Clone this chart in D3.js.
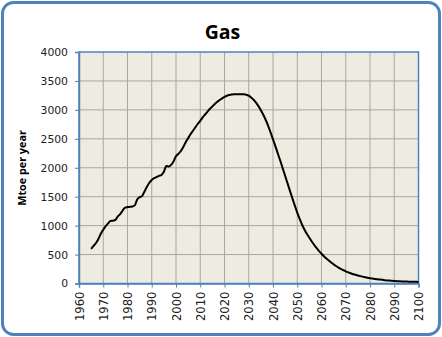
<!DOCTYPE html>
<html><head><meta charset="utf-8">
<script src="https://cdn.jsdelivr.net/npm/d3@7"></script>
<style>body{margin:0;background:#fff;}svg{display:block;}</style>
</head><body>
<script>
const title = "Gas";
const yLabel = "Mtoe per year";
const xTicks = [1960,1970,1980,1990,2000,2010,2020,2030,2040,2050,2060,2070,2080,2090,2100];
const yTicks = [0,500,1000,1500,2000,2500,3000,3500,4000];
const years = [1965,1966,1967,1968,1969,1970,1971,1972,1973,1974,1975,1976,1977,1978,1979,
1980,1981,1982,1983,1984,1985,1986,1987,1988,1989,1990,1991,1992,1993,1994,1995,1996,1997,1998,1999,
2000,2001,2002,2003,2004,2005,2006,2007,2008,2009,2010,2011,2012,2013,2014,2015,2016,2017,2018,2019,
2020,2021,2022,2023,2024,2025,2026,2027,2028,2029,2030,2031,2032,2033,2034,2035,2036,2037,2038,2039,
2040,2041,2042,2043,2044,2045,2046,2047,2048,2049,2050,2051,2052,2053,2054,2055,2056,2057,2058,2059,
2060,2061,2062,2063,2064,2065,2066,2067,2068,2069,2070,2072,2074,2076,2078,2080,2082,2084,2086,2088,
2090,2092,2094,2096,2098,2100];
const gas = [600,650,700,770,860,930,990,1040,1080,1085,1100,1160,1200,1260,1310,
1320,1325,1330,1350,1450,1490,1510,1590,1670,1740,1790,1820,1840,1860,1875,1930,2030,2020,2050,2110,
2200,2240,2290,2360,2440,2510,2580,2640,2700,2760,2810,2870,2920,2970,3020,3060,3100,3140,3170,3200,
3225,3245,3258,3265,3268,3268,3268,3268,3268,3262,3245,3215,3175,3125,3065,2995,2915,2825,2725,2610,
2490,2370,2245,2120,1990,1860,1730,1600,1470,1345,1225,1115,1015,930,855,790,725,665,610,560,
515,472,432,396,362,330,302,276,252,230,210,178,150,127,108,92,79,68,58,50,
44,39,35,32,30,28];

const W=442,H=337;
const svg=d3.select("body").append("svg").attr("width",W).attr("height",H);
svg.append("rect").attr("x",2.5).attr("y",2.5).attr("width",W-5).attr("height",H-5)
  .attr("rx",11).attr("fill","#fff").attr("stroke","#4F81BD").attr("stroke-width",3);

const L=79,R=418.5,T=52,B=283.5;
const x=d3.scaleLinear().domain([1960,2100]).range([L,R]);
const y=d3.scaleLinear().domain([0,4000]).range([B,T]);

svg.append("rect").attr("x",L).attr("y",T).attr("width",R-L).attr("height",B-T).attr("fill","#EEECE1");
const g=svg.append("g");
g.selectAll("line.v").data(xTicks.slice(1,-1)).enter().append("line")
  .attr("x1",d=>x(d)).attr("x2",d=>x(d)).attr("y1",T).attr("y2",B)
  .attr("stroke","#A6A6A6").attr("stroke-width",1);
g.selectAll("line.h").data(yTicks.slice(1,-1)).enter().append("line")
  .attr("y1",d=>y(d)).attr("y2",d=>y(d)).attr("x1",L).attr("x2",R)
  .attr("stroke","#A6A6A6").attr("stroke-width",1);
svg.append("rect").attr("x",L).attr("y",T).attr("width",R-L).attr("height",B-T)
  .attr("fill","none").attr("stroke","#4F81BD").attr("stroke-width",1.5);

const font="'DejaVu Sans', Verdana, sans-serif";
const yAxis=d3.axisLeft(y).tickValues(yTicks).tickFormat(d3.format("d")).tickSize(4).tickPadding(7);
const ya=svg.append("g").attr("transform",`translate(${L},0)`).call(yAxis);
ya.select(".domain").attr("stroke","#4F81BD").attr("stroke-width",1.5);
ya.selectAll(".tick line").attr("stroke","#4F81BD");
ya.selectAll("text").attr("font-family",font).attr("font-size","10.8px").attr("fill","#222");

const xAxis=d3.axisBottom(x).tickValues(xTicks).tickFormat(d3.format("d")).tickSize(4);
const xa=svg.append("g").attr("transform",`translate(0,${B})`).call(xAxis);
xa.select(".domain").attr("stroke","#4F81BD").attr("stroke-width",1.5);
xa.selectAll(".tick line").attr("stroke","#4F81BD");
xa.selectAll("text").attr("font-family",font).attr("font-size","11.6px").attr("fill","#222")
  .attr("text-anchor","end").attr("transform","translate(0,8) rotate(-90)")
  .attr("x",0).attr("y",0).attr("dy","0.35em");

const line=d3.line().x((d,i)=>x(years[i])).y(d=>y(d)).curve(d3.curveMonotoneX);
svg.append("path").datum(gas).attr("d",line).attr("fill","none")
  .attr("stroke","#000").attr("stroke-width",2).attr("stroke-linejoin","round");

svg.append("text").attr("x",222.5).attr("y",39).attr("text-anchor","middle")
  .attr("font-family","'Open Sans', sans-serif").attr("font-weight","bold").attr("font-size","19.5px").text(title);
svg.append("text").attr("transform","translate(26,168) rotate(-90)").attr("text-anchor","middle")
  .attr("font-family","'Open Sans', sans-serif").attr("font-weight","bold").attr("font-size","10.8px").text(yLabel);
</script>
</body></html>
